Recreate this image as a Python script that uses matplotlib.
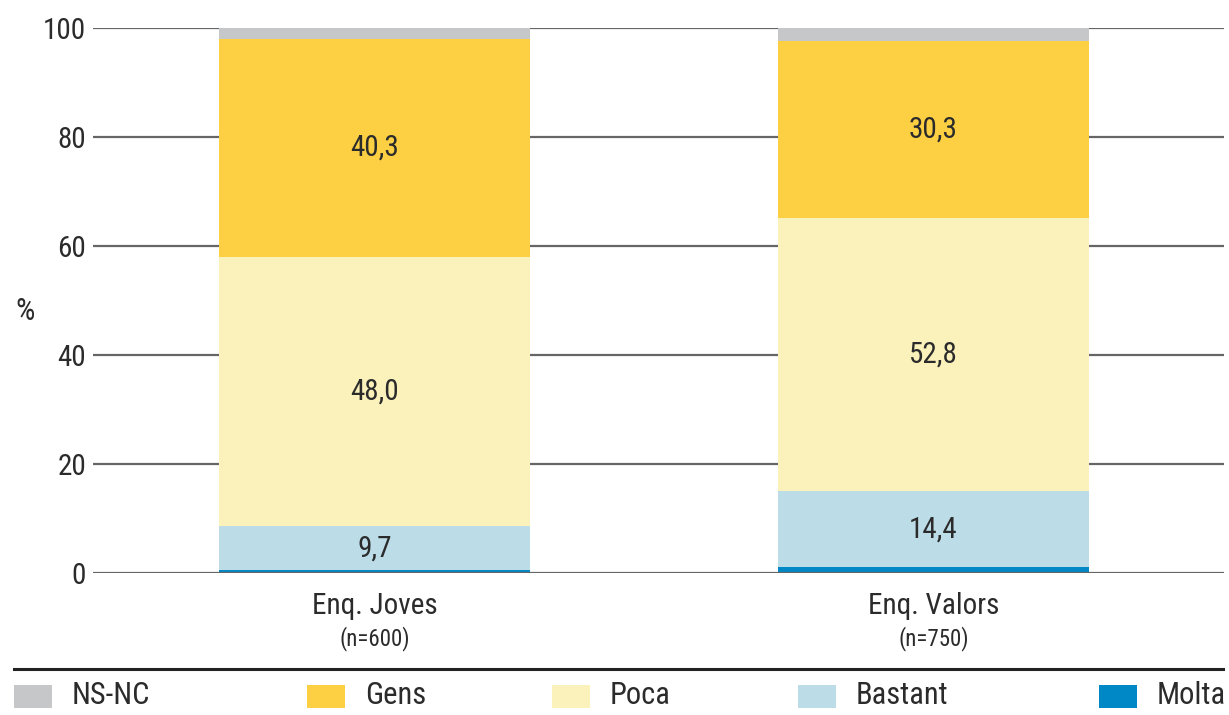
import matplotlib
matplotlib.use("Agg")
import matplotlib.pyplot as plt
from matplotlib.patches import Rectangle
from matplotlib.lines import Line2D
from matplotlib import font_manager

_names = {f.name for f in font_manager.fontManager.ttflist}
_narrow = [n for n in ["Liberation Sans Narrow", "Roboto Condensed", "Open Sans Condensed",
                       "DejaVu Sans Condensed"] if n in _names]
plt.rcParams['font.family'] = _narrow[:1] + ['Liberation Sans', 'DejaVu Sans']
_is_narrow = bool(_narrow) and _narrow[0] != "DejaVu Sans Condensed"
big = 21 if _is_narrow else 19
k = big / 21.0

# ---- data ----
groups = ["Enq. Joves", "Enq. Valors"]
group_n = ["(n=600)", "(n=750)"]
series_names = ["Molta", "Bastant", "Poca", "Gens", "NS-NC"]   # stacking order bottom->top
molta = [0.5, 1.1]
bastant = [8.1, 13.9]
poca = [49.4, 50.2]
gens = [40.0, 32.4]
nsnc = [2.0, 2.4]
series_values = [molta, bastant, poca, gens, nsnc]
colors = ["#0088c6", "#bcdde8", "#faf1bb", "#fdd043", "#c6c7c9"]
# printed labels (as shown on chart)
label_bastant = ["9,7", "14,4"]
label_poca = ["48,0", "52,8"]
label_gens = ["40,3", "30,3"]
legend_order = ["NS-NC", "Gens", "Poca", "Bastant", "Molta"]
yticks = [0, 20, 40, 60, 80, 100]

W, H = 1229, 715
fig = plt.figure(figsize=(W / 100, H / 100), dpi=100)
ax = fig.add_axes([93 / W, 1 - 573 / H, (1224 - 93) / W, (573 - 28) / H])

txt = "#2b2b2b"
x = [0, 1]
width = 0.556
bottoms = [0.0, 0.0]
seg_centers = {}
for name, vals, c in zip(series_names, series_values, colors):
    ax.bar(x, vals, width=width, bottom=bottoms, color=c, edgecolor='none', zorder=3)
    seg_centers[name] = [b + v / 2 for b, v in zip(bottoms, vals)]
    bottoms = [b + v for b, v in zip(bottoms, vals)]

for name, labs in [("Bastant", label_bastant), ("Poca", label_poca), ("Gens", label_gens)]:
    for xi, yc, lab in zip(x, seg_centers[name], labs):
        ax.text(xi, yc, lab, ha='center', va='center', fontsize=big, color=txt, zorder=5)

ax.set_xlim(-0.5036, 1.5197)
ax.set_ylim(0, 100)
ax.set_yticks(yticks)
ax.set_yticklabels([str(t) for t in yticks], fontsize=big, color=txt)
for t in yticks:
    ax.axhline(t, color="#666666", lw=1.6, zorder=1 if t > 0 else 4)
ax.tick_params(axis='y', length=0, pad=5)
ax.tick_params(axis='x', length=0)
ax.set_xticks([])
for s in ax.spines.values():
    s.set_visible(False)

for xi, g, n in zip(x, groups, group_n):
    ax.annotate(g, (xi, 0), xytext=(0, -14), textcoords='offset points', ha='center', va='top',
                fontsize=big, color=txt, annotation_clip=False)
    ax.annotate(n, (xi, 0), xytext=(0, -38), textcoords='offset points', ha='center', va='top',
                fontsize=16.5 * k, color=txt, annotation_clip=False)

fig.text(25 / W, 1 - 312 / H, "%", ha='center', va='center', fontsize=22 * k, color=txt)

# bottom rule and legend
fig.add_artist(Line2D([14 / W, 1223 / W], [1 - 669 / H, 1 - 669 / H], color="#222222", lw=2.2))
patch_x = [14, 307, 552, 798, 1099]
color_of = dict(zip(series_names, colors))
for px, name in zip(patch_x, legend_order):
    fig.add_artist(Rectangle((px / W, 1 - 708 / H), 38 / W, 23 / H, facecolor=color_of[name],
                             edgecolor='none', transform=fig.transFigure))
    fig.text((px + 58) / W, 1 - 696 / H, name, ha='left', va='center', fontsize=22 * k, color=txt)

fig.savefig("out.png", dpi=100)
